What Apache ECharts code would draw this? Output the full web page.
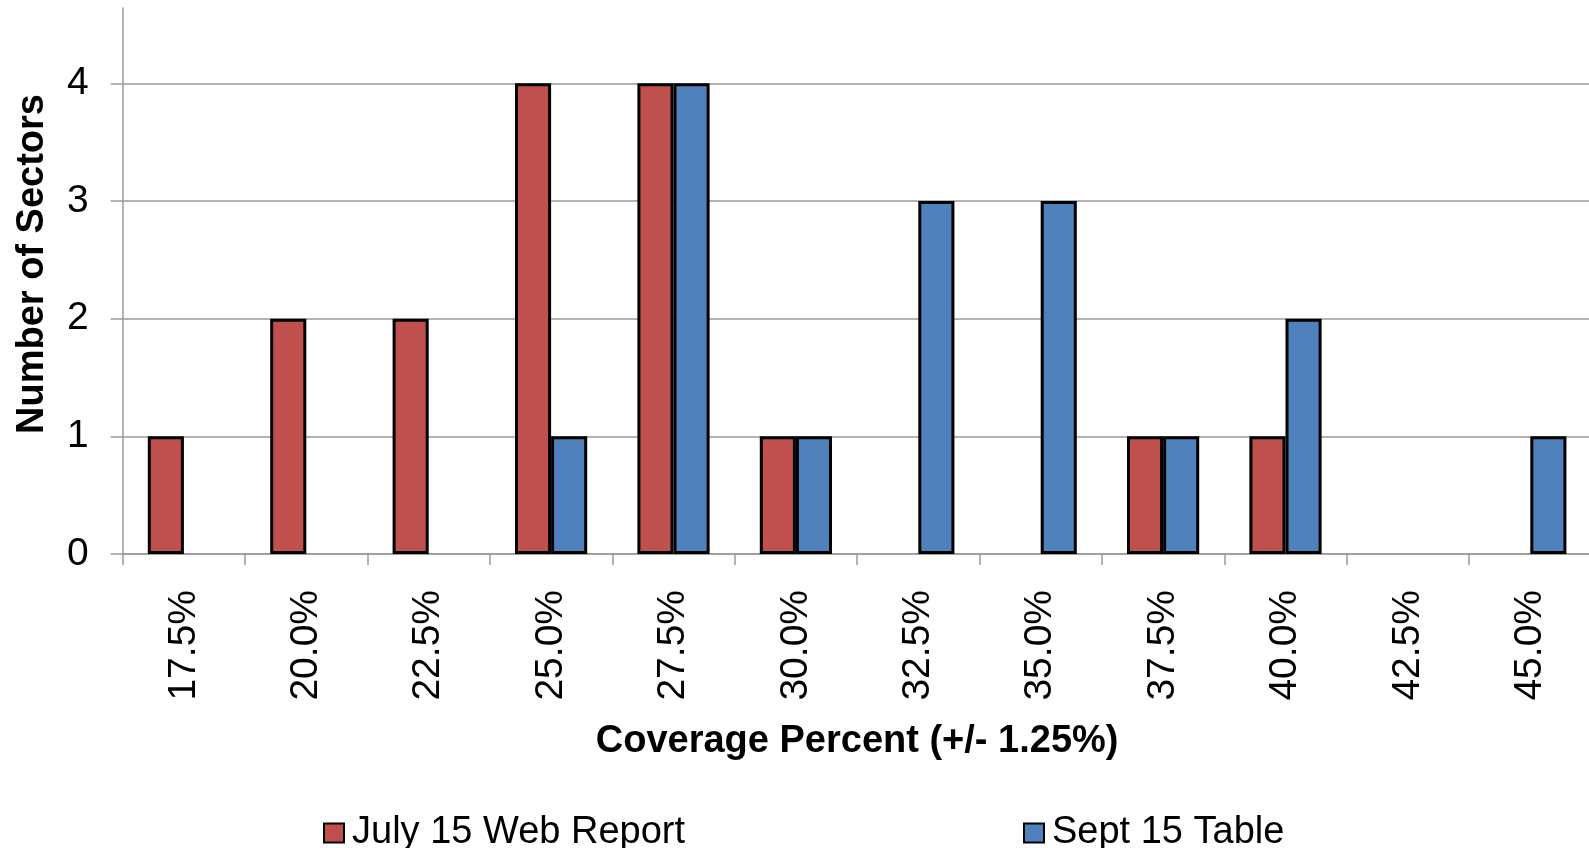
<!DOCTYPE html>
<html>
<head>
<meta charset="utf-8">
<script src="https://cdn.jsdelivr.net/npm/echarts@6/dist/echarts.min.js"></script>
<style>
html, body { margin: 0; padding: 0; background: #fff; overflow: hidden; }
#chart { width: 1600px; height: 848px; }
</style>
</head>
<body>
<div id="chart"></div>
<script>
const categories = ['17.5%', '20.0%', '22.5%', '25.0%', '27.5%', '30.0%', '32.5%', '35.0%', '37.5%', '40.0%', '42.5%', '45.0%'];
const julyValues = [1, 2, 2, 4, 4, 1, '-', '-', 1, 1, '-', '-'];
const septValues = ['-', '-', '-', 1, 4, 1, 3, 3, 1, 2, '-', 1];
const yTicks = [0, 1, 2, 3, 4];
const seriesNames = ['July 15 Web Report', 'Sept 15 Table'];

const FONT = "'Liberation Sans', Arial, sans-serif";
const chart = echarts.init(document.getElementById('chart'), null, { renderer: 'canvas' });
const gridColor = '#9a9a9a';

chart.setOption({
  animation: false,
  backgroundColor: '#ffffff',
  textStyle: { fontFamily: FONT },
  grid: { left: 122.7, right: 8.5, top: 8, bottom: 294, containLabel: false },
  legend: [
    {
      data: [seriesNames[0]],
      left: 318, top: 807,
      itemWidth: 20, itemHeight: 19,
      icon: 'rect',
      textStyle: { fontSize: 38, fontFamily: FONT, color: '#000', lineHeight: 42, padding: [0, 0, 0, 3] }
    },
    {
      data: [seriesNames[1]],
      left: 1018, top: 807,
      itemWidth: 20, itemHeight: 19,
      icon: 'rect',
      textStyle: { fontSize: 38, fontFamily: FONT, color: '#000', lineHeight: 42, padding: [0, 0, 0, 3] }
    }
  ],
  xAxis: {
    type: 'category',
    data: categories,
    boundaryGap: true,
    name: 'Coverage Percent (+/- 1.25%)',
    nameLocation: 'middle',
    nameGap: 169,
    nameTextStyle: { fontSize: 38, fontWeight: 'bold', color: '#000', fontFamily: FONT },
    axisLine: { show: true, lineStyle: { color: gridColor, width: 1.5 } },
    axisTick: { show: true, alignWithLabel: false, length: 11, inside: false, lineStyle: { color: gridColor, width: 1.5 } },
    axisLabel: { rotate: 90, margin: 36, fontSize: 39, color: '#000', fontFamily: FONT, interval: 0 },
    splitLine: { show: false }
  },
  yAxis: {
    type: 'value',
    min: 0,
    max: 4.64,
    interval: 1,
    name: 'Number of Sectors',
    nameLocation: 'middle',
    nameGap: 71,
    nameTextStyle: { fontSize: 38, fontWeight: 'bold', color: '#000', fontFamily: FONT, padding: [0, 0, 0, 34] },
    axisLine: { show: true, lineStyle: { color: gridColor, width: 1.5 } },
    axisTick: { show: true, length: 12, lineStyle: { color: gridColor, width: 1.5 }, customValues: yTicks },
    axisLabel: { margin: 34, fontSize: 39, color: '#000', fontFamily: FONT, customValues: yTicks },
    splitLine: { show: true, lineStyle: { color: gridColor, width: 1.5 } }
  },
  series: [
    {
      name: seriesNames[0],
      type: 'bar',
      data: julyValues,
      barGap: '0%',
      barCategoryGap: '41%',
      itemStyle: { color: '#C0504D', borderColor: '#000', borderWidth: 3 }
    },
    {
      name: seriesNames[1],
      type: 'bar',
      data: septValues,
      barGap: '0%',
      barCategoryGap: '41%',
      itemStyle: { color: '#4F81BD', borderColor: '#000', borderWidth: 3 }
    }
  ]
});
</script>
</body>
</html>
